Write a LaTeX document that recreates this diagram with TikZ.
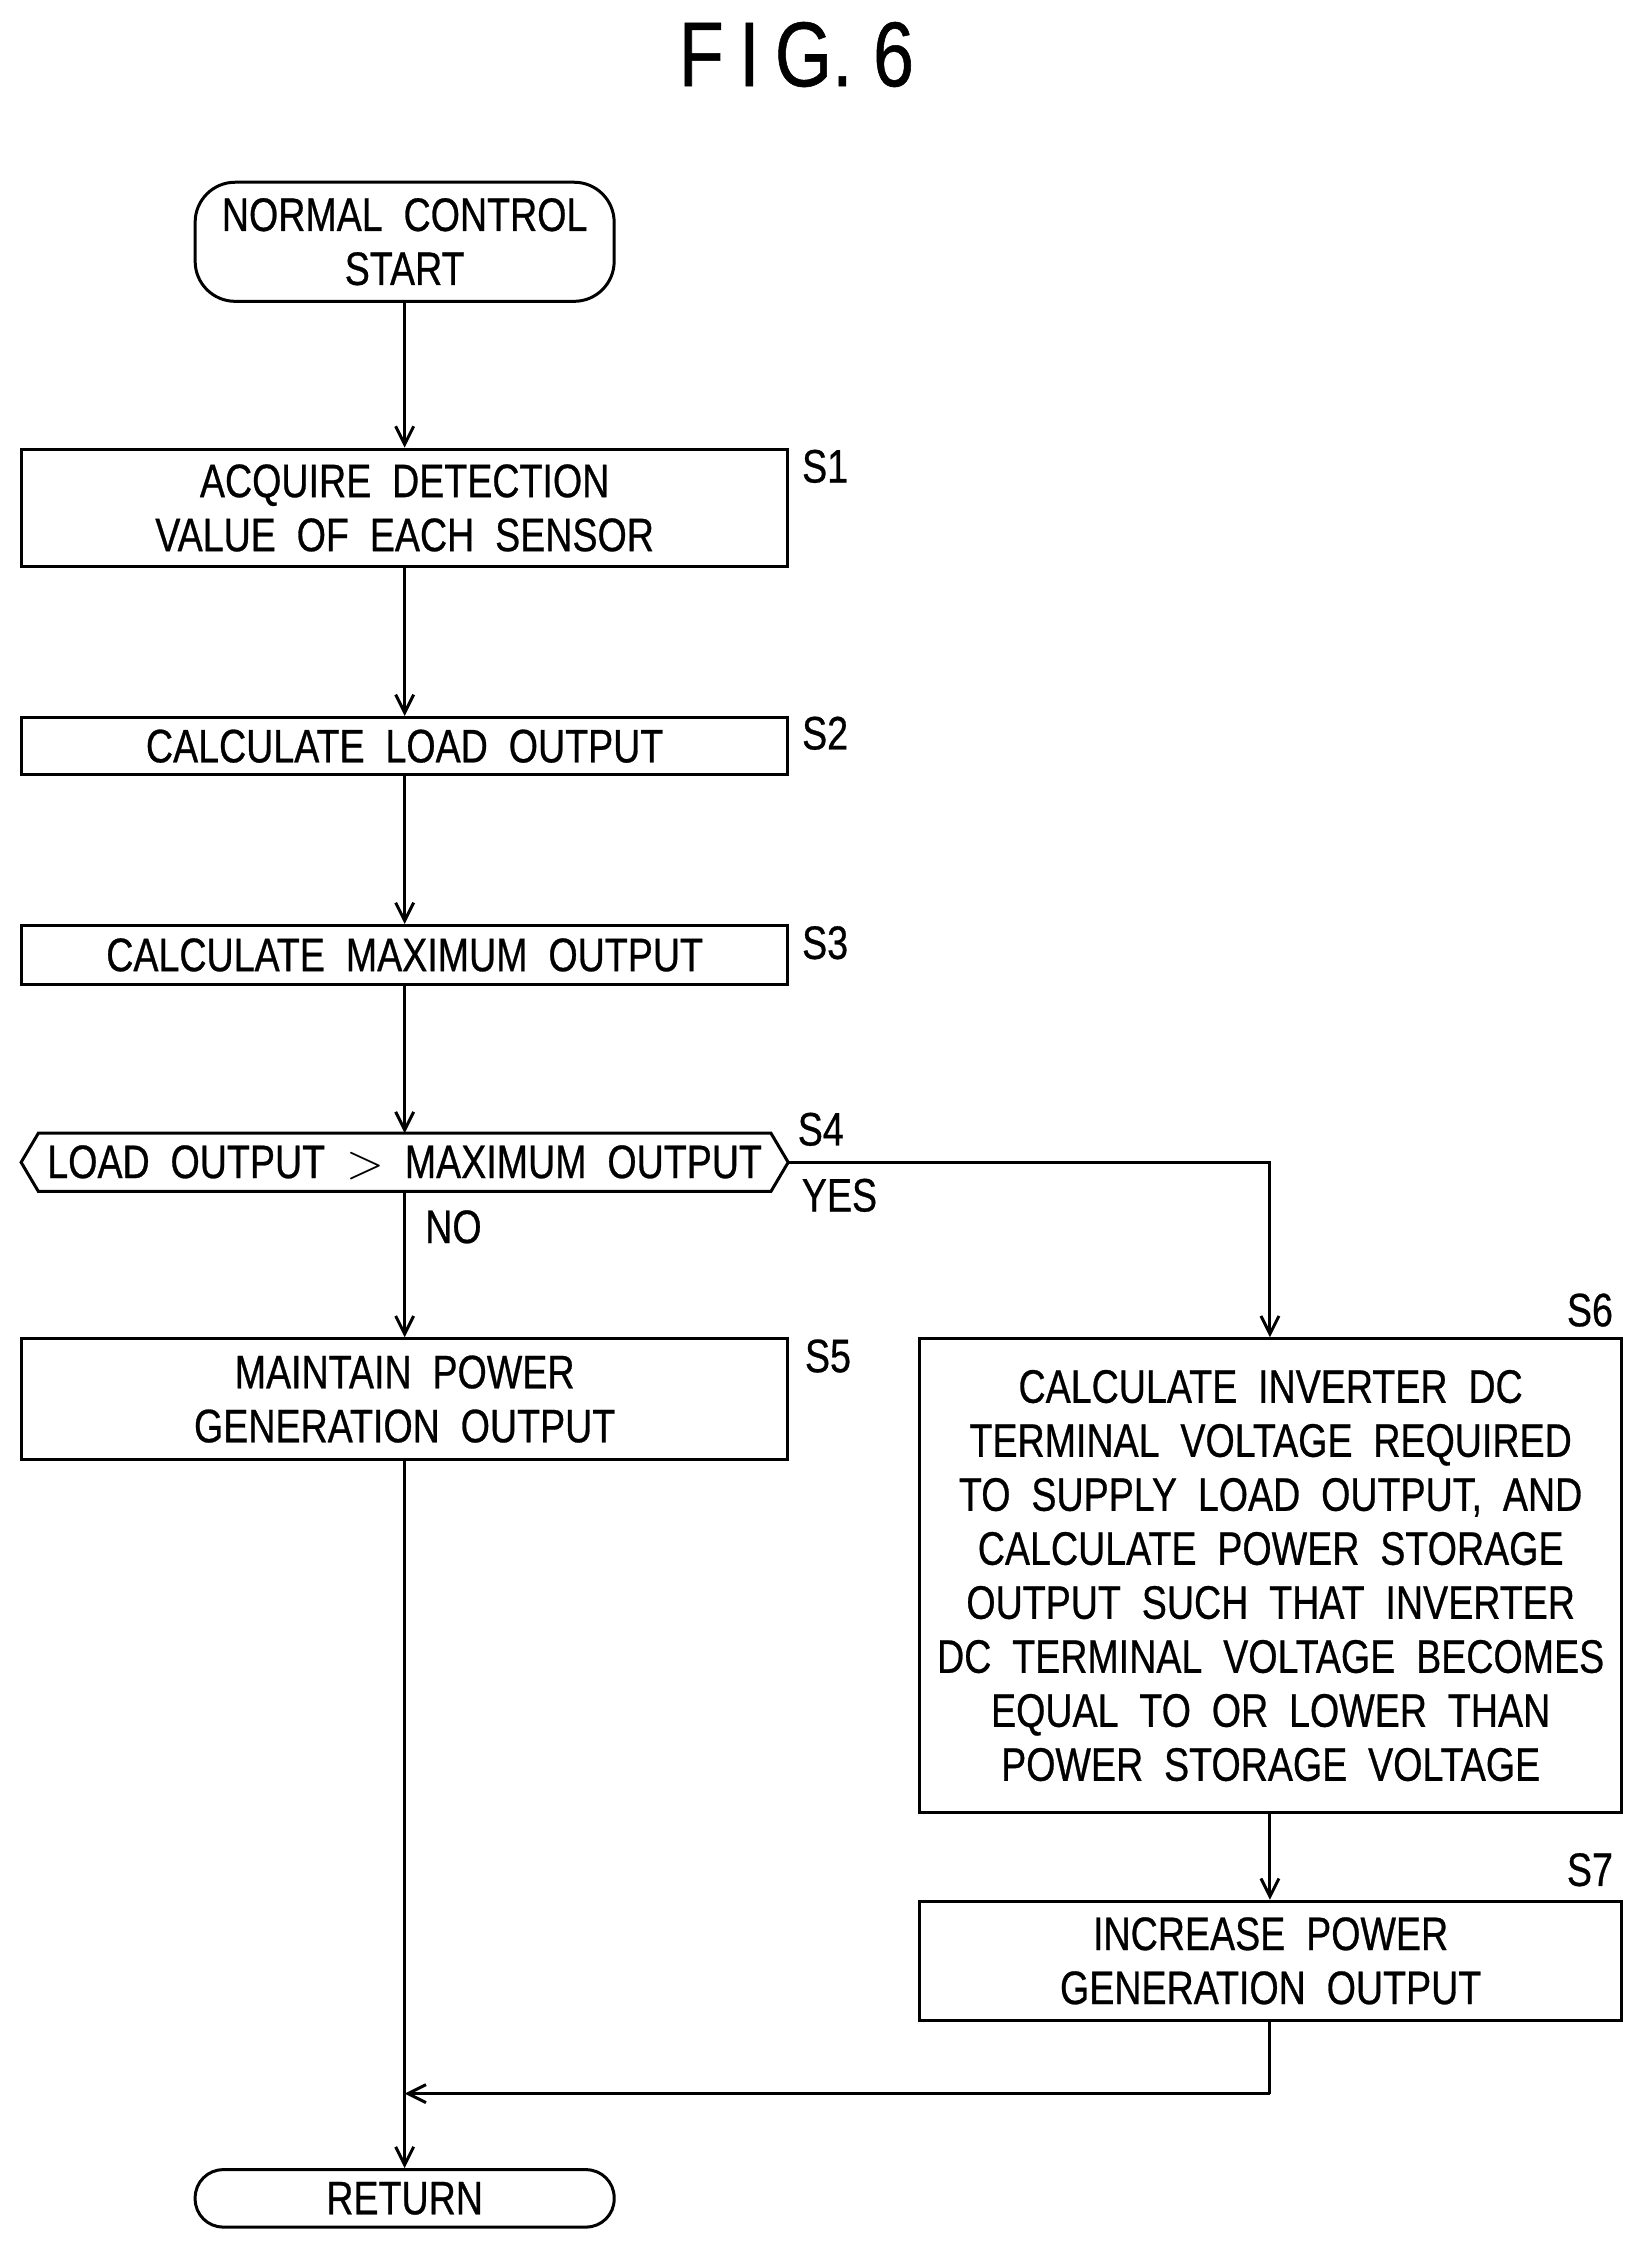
\documentclass[tikz,border=0pt]{standalone}
\usepackage{fontspec}
\setmainfont{Liberation Sans}[FakeStretch=0.8,FakeBold=0.6]
\usetikzlibrary{arrows.meta}
\begin{document}
\begin{tikzpicture}[x=0.7175pt,y=-0.7175pt,
  every node/.style={font=\fontsize{23.5}{27}\selectfont, align=center},
  box/.style={draw, line width=1.5pt, inner sep=0pt},
  lab/.style={font=\fontsize{23.5}{27}\selectfont},
  flow/.style={line width=1.5pt, -{Straight Barb[length=9pt,width=9pt]}},
  line/.style={line width=1.5pt}]
\useasboundingbox (0,0) rectangle (1145,1568);
\node[font=\fontsize{46}{50}\selectfont] (title) at (555,38) {F\,I\,G.\ 6};
\node[box, rounded corners=20pt, minimum width=292*0.7175pt, minimum height=83*0.7175pt] (start) at (282,168.5) {NORMAL\ \ CONTROL\\START};
\node[box, minimum width=534*0.7175pt, minimum height=82*0.7175pt] (s1) at (282,354) {ACQUIRE\ \ DETECTION\\VALUE\ \ OF\ \ EACH\ \ SENSOR};
\node[box, minimum width=534*0.7175pt, minimum height=40*0.7175pt] (s2) at (282,520) {CALCULATE\ \ LOAD\ \ OUTPUT};
\node[box, minimum width=534*0.7175pt, minimum height=41*0.7175pt] (s3) at (282,665.5) {CALCULATE\ \ MAXIMUM\ \ OUTPUT};
\node[minimum width=534*0.7175pt, minimum height=40*0.7175pt, inner sep=0pt] (s4) at (282,810) {LOAD\ \ OUTPUT\ \ $>$\ \ MAXIMUM\ \ OUTPUT};
\draw[line] (s4.west) -- ([xshift=12*0.7175pt]s4.north west) -- ([xshift=-12*0.7175pt]s4.north east) -- (s4.east) -- ([xshift=-12*0.7175pt]s4.south east) -- ([xshift=12*0.7175pt]s4.south west) -- cycle;
\node[box, minimum width=534*0.7175pt, minimum height=84*0.7175pt] (s5) at (282,975) {MAINTAIN\ \ POWER\\GENERATION\ \ OUTPUT};
\node[box, minimum width=489*0.7175pt, minimum height=330*0.7175pt] (s6) at (885.5,1098) {CALCULATE\ \ INVERTER\ \ DC\\TERMINAL\ \ VOLTAGE\ \ REQUIRED\\TO\ \ SUPPLY\ \ LOAD\ \ OUTPUT,\ \ AND\\CALCULATE\ \ POWER\ \ STORAGE\\OUTPUT\ \ SUCH\ \ THAT\ \ INVERTER\\DC\ \ TERMINAL\ \ VOLTAGE\ \ BECOMES\\EQUAL\ \ TO\ \ OR\ \ LOWER\ \ THAN\\POWER\ \ STORAGE\ \ VOLTAGE};
\node[box, minimum width=489*0.7175pt, minimum height=83*0.7175pt] (s7) at (885.5,1366.5) {INCREASE\ \ POWER\\GENERATION\ \ OUTPUT};
\node[box, rounded corners=14pt, minimum width=292*0.7175pt, minimum height=40*0.7175pt] (ret) at (282,1532) {RETURN};
\node[lab] (l1) at (575,325) {S1};
\node[lab] (l2) at (575,511) {S2};
\node[lab] (l3) at (575,657) {S3};
\node[lab] (l4) at (572,787) {S4};
\node[lab] (yes) at (585,833) {YES};
\node[lab] (no) at (316,855) {NO};
\node[lab] (l5) at (577,945) {S5};
\node[lab] (l6) at (1108,913) {S6};
\node[lab] (l7) at (1108,1303) {S7};
\coordinate (c1) at (885,810);
\coordinate (c2) at (885,1459);
\coordinate (c3) at (282,1459);
\draw[flow] (start) -- (s1);
\draw[flow] (s1) -- (s2);
\draw[flow] (s2) -- (s3);
\draw[flow] (s3) -- (s4);
\draw[flow] (s4) -- (s5);
\draw[flow] (s4.east) -- (c1) -- (s6.north -| c1);
\draw[flow] (s6.south -| c1) -- (s7.north -| c1);
\draw[line] (s7.south -| c1) -- (c2);
\draw[flow] (c2) -- (c3);
\draw[flow] (s5) -- (ret);
\end{tikzpicture}
\end{document}
